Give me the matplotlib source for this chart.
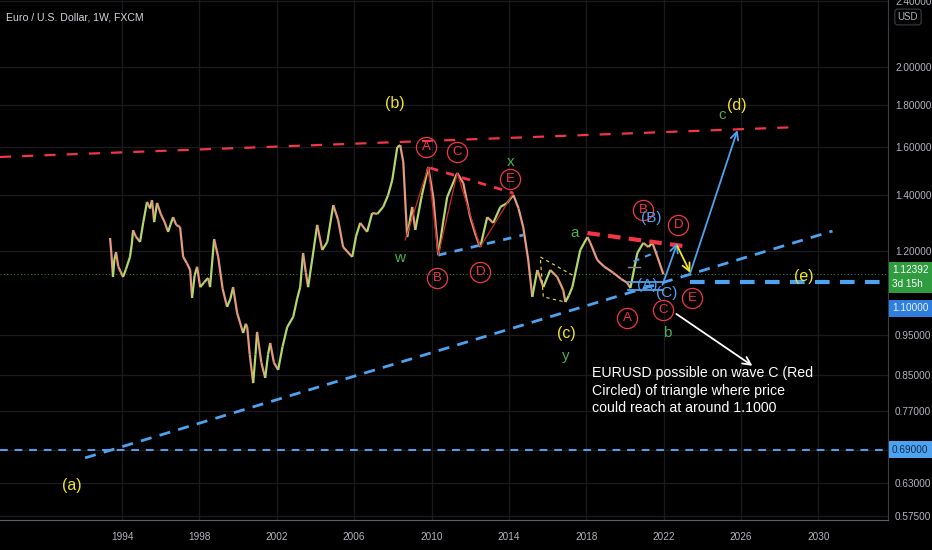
import numpy as np
import matplotlib
matplotlib.use("Agg")
import matplotlib.pyplot as plt
from matplotlib import font_manager
from matplotlib.collections import LineCollection

# no condensed face is installed, Liberation Sans is the narrowest usable one
FAMILY = ["Liberation Sans", "DejaVu Sans"]
plt.rcParams["font.family"] = FAMILY

def fp(size):
    return font_manager.FontProperties(family=FAMILY, size=size)

# --- data (year, price) ---
years = [1993.38, 1993.45, 1993.53, 1993.60, 1993.69, 1993.80, 1994.05, 1994.20, 1994.41, 1994.50,
         1994.57, 1994.70, 1994.93, 1995.10, 1995.29, 1995.45, 1995.55, 1995.66, 1995.81, 1996.00,
         1996.20, 1996.38, 1996.50, 1996.64, 1996.80, 1997.00, 1997.16, 1997.35, 1997.52, 1997.62,
         1997.75, 1997.88, 1998.04, 1998.25, 1998.45, 1998.55, 1998.76, 1998.97, 1999.20, 1999.43,
         1999.60, 1999.74, 1999.95, 2000.26, 2000.40, 2000.47, 2000.60, 2000.78, 2000.90, 2000.98,
         2001.20, 2001.40, 2001.55, 2001.66, 2001.85, 2002.07, 2002.30, 2002.54, 2002.85, 2003.05,
         2003.21, 2003.36, 2003.50, 2003.62, 2003.85, 2004.09, 2004.35, 2004.61, 2004.92, 2005.17,
         2005.43, 2005.90, 2006.10, 2006.31, 2006.67, 2006.93, 2007.20, 2007.50, 2007.75, 2007.97,
         2008.23, 2008.38, 2008.54, 2008.74, 2009.00, 2009.16, 2009.50, 2009.83, 2010.09, 2010.35,
         2010.60, 2010.81, 2011.33, 2011.64, 2012.00, 2012.30, 2012.52, 2012.88, 2013.19, 2013.56,
         2013.90, 2014.23, 2014.50, 2014.74, 2015.00, 2015.21, 2015.47, 2015.78, 2016.14, 2016.50,
         2016.81, 2016.92, 2017.10, 2017.28, 2017.69, 2018.06, 2018.21, 2018.57, 2018.90, 2019.40,
         2019.80, 2020.12, 2020.28, 2020.64, 2020.95, 2021.21, 2021.42, 2021.68, 2021.99]
prices = [1.244, 1.190, 1.116, 1.170, 1.196, 1.150, 1.116, 1.140, 1.180, 1.220,
          1.271, 1.250, 1.230, 1.300, 1.375, 1.350, 1.382, 1.300, 1.371, 1.330,
          1.300, 1.265, 1.290, 1.318, 1.290, 1.282, 1.180, 1.160, 1.138, 1.053,
          1.120, 1.148, 1.085, 1.100, 1.113, 1.085, 1.240, 1.180, 1.080, 1.027,
          1.050, 1.085, 1.010, 0.955, 0.980, 0.971, 0.900, 0.831, 0.900, 0.958,
          0.880, 0.843, 0.900, 0.929, 0.880, 0.862, 0.920, 0.971, 0.999, 1.050,
          1.085, 1.193, 1.130, 1.085, 1.180, 1.290, 1.203, 1.230, 1.363, 1.308,
          1.213, 1.180, 1.250, 1.297, 1.265, 1.333, 1.330, 1.356, 1.400, 1.461,
          1.601, 1.610, 1.536, 1.247, 1.356, 1.272, 1.400, 1.515, 1.394, 1.186,
          1.300, 1.394, 1.490, 1.449, 1.318, 1.250, 1.213, 1.318, 1.297, 1.356,
          1.370, 1.402, 1.350, 1.282, 1.170, 1.056, 1.138, 1.085, 1.138, 1.116,
          1.076, 1.041, 1.060, 1.085, 1.203, 1.247, 1.227, 1.170, 1.150, 1.129,
          1.110, 1.098, 1.082, 1.193, 1.227, 1.213, 1.227, 1.180, 1.124]
last_price = 1.12392

year_ticks = [1994, 1998, 2002, 2006, 2010, 2014, 2018, 2022, 2026, 2030]
price_ticks = [0.575, 0.63, 0.69, 0.77, 0.85, 0.95, 1.2, 1.4, 1.6, 1.8, 2.0, 2.4]

# trend lines: (x0, y0, x1, y1)
top_line = (1987.69, 1.558, 2028.97, 1.693)
low_line = (1992.09, 0.675, 2030.73, 1.268)
tri_low = (2010.35, 1.186, 2014.74, 1.254)
tri_top = (2009.93, 1.511, 2014.23, 1.409)
a_line = (2018.06, 1.261, 2023.38, 1.213)
b_line = (2020.44, 1.165, 2021.68, 1.198)
support = 0.69
target = 1.10
target_start = 2023.38

# wave path from w low through A..E
wave_x = [2008.64, 2009.83, 2010.35, 2011.33, 2012.52, 2014.23]
wave_y = [1.237, 1.515, 1.186, 1.490, 1.213, 1.409]

# yellow dashed box around (c)
box_x = [2017.28, 2015.62, 2015.78, 2016.92]
box_y = [1.122, 1.180, 1.056, 1.041]

# circled letters
circ_txt = ["A", "C", "E", "B", "D", "B", "D", "A", "C", "E"]
circ_x = [2009.73, 2011.33, 2014.07, 2010.30, 2012.52, 2020.95, 2022.76, 2020.13, 2021.99, 2023.49]
circ_y = [1.601, 1.579, 1.465, 1.113, 1.132, 1.344, 1.290, 0.996, 1.018, 1.053]

# plain wave labels
yel_txt = ["(b)", "(c)", "(d)", "(e)", "(a)"]
yel_x = [2008.12, 2016.97, 2025.76, 2029.23, 1991.41]
yel_y = [1.81, 0.955, 1.80, 1.116, 0.625]
grn_txt = ["w", "x", "a", "y", "b", "c"]
grn_x = [2008.33, 2014.07, 2017.38, 2016.92, 2022.19, 2025.04]
grn_y = [1.177, 1.536, 1.261, 0.896, 0.955, 1.750]
blu_txt = ["(B)", "(A)", "(C)"]
blu_x = [2021.37, 2021.16, 2022.14]
blu_y = [1.315, 1.092, 1.068]

# projected path arrows: (x0, y0, x1, y1)
arrow_c = (2021.94, 1.092, 2022.71, 1.227)
arrow_d = (2022.71, 1.216, 2023.38, 1.129)
arrow_up = (2023.38, 1.129, 2025.82, 1.679)
arrow_note = (2022.66, 1.007, 2026.59, 0.872)

note = "EURUSD possible on wave C (Red\nCircled) of triangle where price\ncould reach at around 1.1000"
note_x, note_y = 2018.31, 0.872

BG = "#000000"
GRID = "#1b1b1f"
AXTXT = "#b2b5be"
RED = "#f23645"
BLUE = "#4ea3f1"
YEL = "#f2e422"
GRN = "#4caf50"

fig = plt.figure(figsize=(9.32, 5.5), dpi=100, facecolor=BG)
ax = fig.add_axes([0, 30 / 550, 888 / 932, 520 / 550], facecolor=BG)
ax.set_yscale("log")
ax.set_xlim(1987.69, 2033.6)
ax.set_ylim(0.568, 2.41)

ax.set_xticks(year_ticks)
ax.set_xticklabels([str(y) for y in year_ticks])
ax.set_yticks(price_ticks)
# the 0.69 level gets its own coloured box below
ax.set_yticklabels(["" if p == support else "%.5f" % p for p in price_ticks])
ax.yaxis.set_minor_locator(matplotlib.ticker.NullLocator())
ax.yaxis.tick_right()
ax.tick_params(axis="x", colors=AXTXT, length=0, pad=9)
ax.tick_params(axis="y", colors=AXTXT, length=0, pad=5)
for lbl in ax.get_xticklabels() + ax.get_yticklabels():
    lbl.set_fontproperties(fp(7.2))
ax.grid(True, color=GRID, lw=0.9)
for s in ["top", "left"]:
    ax.spines[s].set_visible(False)
ax.spines["bottom"].set_color("#5d606b")
ax.spines["right"].set_color("#3a3d45")

# price line coloured by direction
pts = np.column_stack([years, prices])
segs = np.stack([pts[:-1], pts[1:]], axis=1)
cols = ["#b4d66a" if b >= a else "#e39a7e" for a, b in zip(prices[:-1], prices[1:])]
ax.add_collection(LineCollection(segs, colors=cols, linewidths=1.6, zorder=3))
ax.axhline(last_price, color=GRN, lw=0.7, ls=(0, (1, 2.5)), alpha=0.8, zorder=2)

def seg(line, **kw):
    ax.plot([line[0], line[2]], [line[1], line[3]], **kw)

seg(top_line, color=RED, lw=1.6, dashes=(5, 5), zorder=4)
seg(low_line, color=BLUE, lw=2.0, dashes=(4, 3), zorder=4)
ax.axhline(support, color=BLUE, lw=1.4, dashes=(4, 3.5), zorder=4)
ax.plot([target_start, 2033.6], [target, target], color=BLUE, lw=3.0, dashes=(3.5, 2.5), zorder=4)
seg(tri_low, color=BLUE, lw=2.0, dashes=(3, 3), zorder=4)
seg(tri_top, color=RED, lw=2.0, dashes=(3, 3), zorder=4)
seg(a_line, color=RED, lw=3.0, dashes=(3, 2), zorder=4)
seg(b_line, color=BLUE, lw=1.5, dashes=(3, 3), zorder=4)
ax.plot(wave_x, wave_y, color="#c62828", lw=0.9, zorder=4)
ax.plot(box_x[:2] + box_x[2:], box_y[:2] + box_y[2:], color=YEL, lw=0.8, dashes=(3, 3), zorder=4)

# (A)-(C) blue construction lines
ax.plot([2020.18, 2021.99], [1.100, 1.100], color=BLUE, lw=1.3, zorder=4)
ax.plot([2020.18, 2021.99], [1.076, 1.076], color=BLUE, lw=1.3, zorder=4)
ax.plot([2020.18, 2020.8], [1.148, 1.148], color="#8a8a8a", lw=1.0, zorder=4)

for ln, c in [(arrow_c, BLUE), (arrow_d, YEL), (arrow_up, BLUE), (arrow_note, "white")]:
    ax.annotate("", xy=(ln[2], ln[3]), xytext=(ln[0], ln[1]),
                arrowprops=dict(arrowstyle="->", color=c, lw=1.3, mutation_scale=14,
                                shrinkA=0, shrinkB=0), zorder=5)

for t, x, y in zip(circ_txt, circ_x, circ_y):
    ax.plot(x, y, "o", ms=14.5, mfc="none", mec=RED, mew=0.9, zorder=6)
    ax.text(x, y, t, color=RED, fontproperties=fp(9.5), ha="center", va="center", zorder=6)
for t, x, y in zip(yel_txt, yel_x, yel_y):
    ax.text(x, y, t, color=YEL, fontproperties=fp(11.5), ha="center", va="center", zorder=6)
for t, x, y in zip(grn_txt, grn_x, grn_y):
    ax.text(x, y, t, color=GRN, fontproperties=fp(11), ha="center", va="center", zorder=6)
for t, x, y in zip(blu_txt, blu_x, blu_y):
    ax.text(x, y, t, color=BLUE, fontproperties=fp(11), ha="center", va="center", zorder=6)

ax.text(note_x, note_y, note, color="white", fontproperties=fp(10.2), ha="left", va="top",
        linespacing=1.35, zorder=6)

ax.text(0.007, 1 - 18 / 520, "Euro / U.S. Dollar, 1W, FXCM", transform=ax.transAxes,
        color="#d1d4dc", fontproperties=fp(7.6), ha="left", va="center")

# price-scale labels
def scale_box(price, text, fc, tc, dy=0):
    ax.annotate(text, xy=(1, price), xycoords=("axes fraction", "data"),
                xytext=(4, dy), textcoords="offset pixels", ha="left", va="center",
                color=tc, fontproperties=fp(7.2), linespacing=1.5, annotation_clip=False,
                bbox=dict(boxstyle="square,pad=0.35", fc=fc, ec="none"), zorder=10)

scale_box(last_price, "%.5f\n3d 15h" % last_price, "#2e9c3f", "white", dy=-3)
scale_box(target, "%.5f" % target, "#2f7fe0", "#e8f1ff", dy=-26)
scale_box(support, "%.5f" % support, "#4ea3f1", "#0d2c4f")
ax.annotate("USD", xy=(1, 1), xycoords="axes fraction", xytext=(20, -17),
            textcoords="offset pixels", ha="center", va="center", color=AXTXT,
            fontproperties=fp(7), annotation_clip=False,
            bbox=dict(boxstyle="round,pad=0.3", fc=BG, ec="#3a3d45", lw=0.8))

fig.savefig("out.png", dpi=100, facecolor=BG)
